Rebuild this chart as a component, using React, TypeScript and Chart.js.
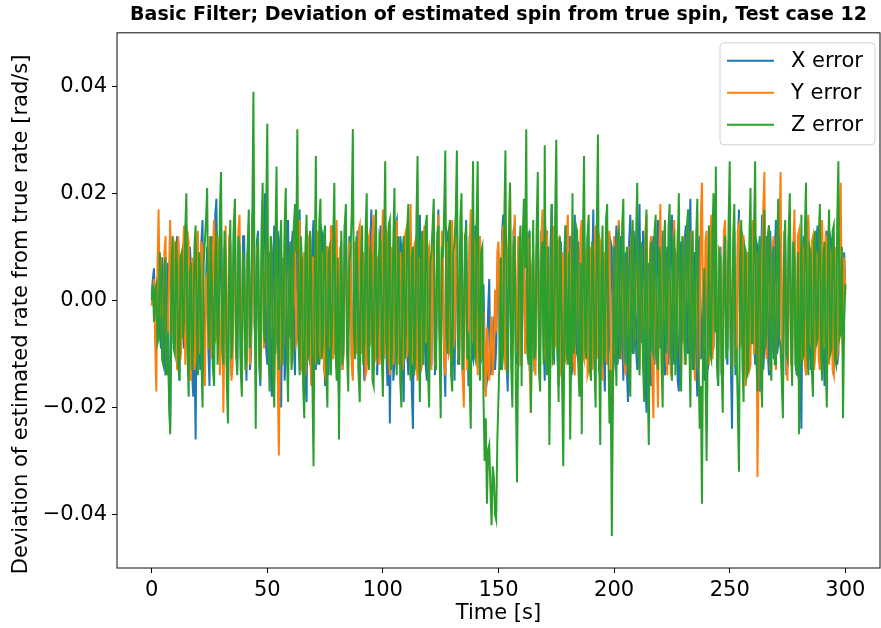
import React, { useEffect, useRef } from "react";
import { Chart, registerables } from "chart.js";

Chart.register(...registerables);

// Sampling grid, seconds (one sample every 0.5 s)
const TIME_S: number[] = Array.from({ length: 601 }, (_, i) => i * 0.5);

// Deviation values, in thousandths of rad/s (20 samples = 10 s per row)
const X_ERR_MILLI = [
  1, 4, 6, -3, -2, 2, 5, -6, -9, 8, 3, -10, -14, 4, 7, -18, -24, -5, 10, -8,
  -6, 9, 12, -11, -15, 7, 4, -3, -9, 11, 14, -7, -11, 10, 6, -14, -18, -8, -26, 3,
  8, -5, -13, 11, 15, -12, -7, 4, 10, -9, -16, 6, 12, -13, -4, 16, 19, -2, -10, 7,
  14, -3, -9, 10, 6, -12, -17, 8, 11, -14, -5, 13, 16, -8, -13, 5, 9, -11, -7, 12,
  12, -6, -15, 9, 7, -13, -10, 15, 18, -4, -8, 11, 13, -12, -16, 3, 5, 14, 20, -9,
  -12, 6, 9, -14, -18, 5, 14, -10, -6, 13, 11, -8, -20, 4, 8, -15, -10, 12, 15, -5,
  -7, 10, 13, -9, -14, 12, 6, -4, 17, -13, -11, 8, 4, -15, -19, 7, 10, -12, -8, 11,
  15, -5, -13, 10, 8, -12, -6, 13, 12, -9, -16, 6, 9, -14, -4, 11, 14, -7, -10, 8,
  7, -11, -18, 4, 11, -13, -9, 14, 16, -6, -5, 12, 10, -10, -14, 8, 6, -7, 13, -12,
  -11, 10, 8, -9, -15, 6, 12, -12, -6, 9, 17, -5, -13, 11, 5, -14, -9, 7, 14, -8,
  -8, 13, 11, -10, -16, 4, -23, -6, 9, -15, -12, 14, 15, -3, -7, 12, 10, -11, -19, 6,
  6, -9, -14, 10, 13, -17, -24, 5, 8, -13, -10, 12, 16, -8, -6, 9, 11, -12, -15, 7,
  9, -6, -12, 11, 14, -14, -8, 10, 17, -4, -13, 8, 7, -11, -18, 13, 12, -9, -5, 10,
  10, -8, -15, 6, 19, -12, -9, 11, 13, -14, -7, 9, 15, -5, -16, 12, 8, -10, -11, 6,
  14, -4, -6, 9, 12, -11, -10, 3, -8, -17, -15, -2, 4, -14, -12, -6, -3, -13, -9, 5,
  9, -10, -13, 12, 16, -3, -5, -12, -17, 8, 11, -9, -8, 13, 14, -6, -12, 10, 7, -11,
  -10, 6, 15, -9, -6, 11, 12, -13, -14, 4, 8, -12, -11, 9, 17, -5, -7, 13, 10, -8,
  -15, 7, 13, -11, -9, 10, 18, -6, -12, 12, 6, -10, -16, 5, 11, -13, -5, 9, 14, -7,
  -8, 10, 12, -14, -13, 6, 16, -9, -10, 11, 7, -15, -18, 8, 15, -4, -6, 12, 9, -11,
  -12, 5, 17, -7, -9, 12, 11, -13, -14, 9, 6, -11, -17, 4, 13, -10, -8, 11, 10, -14,
  -11, 8, 14, -12, -7, 10, 12, -6, -15, 5, 9, -13, -19, 11, 16, -8, -10, 13, 6, -9,
  -13, 9, 18, -5, -8, 13, 11, -14, -21, 4, 7, -10, -16, 8, 12, -12, -6, 10, 15, -7,
  -9, 7, 13, -10, -14, 5, 10, -12, -7, 14, 16, -6, -12, 9, 8, -15, -17, 6, 11, -8,
  -6, 11, 14, -8, -10, 13, 19, -5, -13, 7, 9, -12, -18, 10, 12, -11, -8, 4, -15, 6,
  7, -13, -11, 9, 15, -6, -9, 12, 12, -10, -16, 5, 10, -14, -7, 11, 14, -9, -12, 8,
  8, -12, -24, 6, 13, -14, -10, 10, 17, -5, -8, 12, 11, -11, -15, 7, 9, -13, -6, 10,
  14, -7, -12, 11, 10, -9, -17, 6, 16, -13, -9, 8, 12, -10, -14, 13, 7, -6, -11, 9,
  15, -10, -8, 12, 13, -6, -18, 5, 9, -14, -12, 11, 16, -4, -7, 10, 11, -12, -14, 8,
  6, -14, -24, 3, 12, -9, -10, 13, 15, -7, -13, 9, 9, -12, -6, 11, 14, -8, -11, 6,
  10, -6, -16, 9, 13, -11, -8, 12, 11, -9, -14, 5, 8, -12, -10, 7, 12, -5, -7, 9,
  2,
];

const Y_ERR_MILLI = [
  -1, 2, 4, -8, -17, 6, 17, -3, 8, -10, -6, 9, 12, -12, -9, 5, 15, -7, -4, 11,
  10, -7, -13, 12, 7, -11, -8, 9, 14, -12, -5, 13, 11, -6, -15, 8, 6, -13, -10, 9,
  13, -10, -7, 11, 9, -13, -16, 4, 5, -9, 12, -5, -11, 10, 15, -8, -6, 12, 8, -14,
  -9, 6, -21, -4, 14, -12, -5, 11, 10, -15, -12, 9, 7, -11, -8, 13, 16, -6, -10, 8,
  6, -10, -13, 9, 11, -12, -7, 13, 15, -5, -9, 10, 8, -11, -14, 7, 12, -9, -6, 13,
  10, -7, -11, 12, 7, -10, -15, 8, 13, -14, -29, -6, 9, -12, -8, 11, 14, -9, -12, 6,
  6, -11, -10, 13, 12, -8, -7, 10, 15, -12, -13, 7, 9, -14, -5, 12, 11, -9, -16, 8,
  8, -12, -9, 11, 13, -6, -11, 9, 6, -13, -14, 10, 10, -9, -7, 14, 12, -11, -8, 7,
  15, -8, -12, 10, 7, -13, -10, 12, 13, -9, -6, 11, 9, -12, -15, 6, 11, -10, -8, 13,
  14, -6, -10, 9, 6, -14, -13, 11, 12, -8, -7, 13, 16, -10, -11, 7, 8, -12, -9, 10,
  17, -11, -8, 13, 12, -9, -14, 6, 10, -12, -6, 11, 15, -7, -12, 9, 7, -13, -10, 12,
  13, -10, -9, 8, 18, -12, -7, 10, 11, -11, -15, 6, 8, -13, -12, 11, 14, -8, -6, 9,
  10, -7, -13, 11, 12, -12, -8, 9, 16, -6, -10, 13, 7, -11, -14, 8, 11, -10, -9, 12,
  15, -9, -7, 12, 9, -10, -12, 7, 13, -14, -20, 5, 8, -13, -11, 10, 17, -8, -6, 11,
  10, -8, -14, 7, 12, -11, -8, -2, -12, -18, -5, -13, -15, -7, -3, -14, -10, 2, -6, 9,
  11, -6, -9, 10, 14, -8, -13, 5, 8, 13, 22, -4, -11, 9, 16, -10, -7, 12, 10, -12,
  -12, 8, 15, -10, -8, 12, 11, -13, -21, 6, 9, -11, -14, 10, 13, -7, -6, 11, 17, -9,
  -10, 13, 12, -8, -15, 6, 8, -12, 14, -5, -9, 10, 11, -14, -13, 9, 7, -10, -11, 12,
  16, -6, -8, 11, 10, -12, -14, 7, 12, -9, -7, 13, 15, -10, -11, 8, 9, -14, -13, 10,
  8, -13, -10, 9, 14, -11, -6, 12, 11, -8, -15, 7, 9, -10, -12, 11, 13, -9, -25, -14,
  12, -10, -8, 11, 15, -7, -11, 9, 7, -12, -14, 8, 10, -13, -9, 12, 13, -5, -6, 10,
  11, -9, -13, 7, 8, -12, -10, 13, 16, -6, -7, 10, 12, -14, -22, 5, 9, -11, -20, 8,
  18, -7, -9, 12, 11, -10, -14, 6, 7, -13, -12, 9, 15, -11, -8, 13, 10, -9, -13, 7,
  12, -12, -7, 10, 14, -6, -11, 13, 9, -10, -15, 8, 8, -13, -10, 16, 22, -5, -9, 11,
  13, -8, -12, 9, 16, -11, -8, 12, 10, -7, -14, 10, 7, -12, -11, 13, 15, -6, -9, 11,
  11, -7, -13, 10, 8, -11, -10, 13, 14, -9, -7, 12, 12, -8, -16, 6, 9, -13, -12, 10,
  15, -10, -8, 9, -33, -12, 10, -6, 6, 17, 24, -8, -11, 12, 14, -13, -9, 10, 12, -7,
  -13, 9, 16, 12, 24, -6, -10, 13, 11, -11, -15, 7, 8, -12, -12, 10, 17, -8, -7, 12,
  13, -9, -11, 10, 9, -12, -14, 8, 16, -7, -8, 11, 12, -13, -10, 9, 7, -11, -13, 12,
  15, -6, -9, 12, 11, -10, -12, 9, 8, -13, -14, 7, 10, -11, -7, 13, 22, -4, -11, 8,
  1,
];

const Z_ERR_MILLI = [
  0, 3, -4, 2, 3, -8, -7, 9, 5, -11, -12, 6, 8, -14, -6, -18, -25, 4, 12, -9,
  -10, 11, 6, -12, -15, 8, 9, -7, -4, 13, 20, -10, -18, 5, 7, -13, -8, 10, 14, -6,
  -14, 9, 5, -11, -20, 7, 11, 15, 21, -5, -9, 12, 4, -13, -16, 8, 13, -12, -6, 17,
  24, -8, -12, 13, 8, -16, -23, 6, 15, -11, -7, 14, 19, -9, -14, 12, 10, -13, -18, 9,
  6, -13, -11, 10, 17, -9, -5, 14, 39, 2, -24, 7, 12, -10, -15, 13, 22, -6, -8, 16,
  33, -9, -17, 12, 9, -14, -20, 11, 25, -7, -13, 10, 15, -12, -6, 14, 21, -10, -19, 8,
  11, -13, -9, 14, 18, 9, 32, -8, -14, 12, 7, -16, -22, 10, 16, -11, -10, 13, 5, -15,
  -31, 6, 27, -10, -12, 15, 19, -11, -8, 12, 14, -13, -20, 9, 10, -14, -5, 11, 22, -9,
  -15, 8, -26, -5, 13, -12, -7, 14, 18, -10, -17, 7, 9, 16, 32, -6, -11, 12, 6, -14,
  -19, 7, 14, -12, -8, 13, 20, -9, -13, 10, 8, -15, -16, 9, 17, -11, -4, 12, 11, -10,
  -18, 10, 26, -8, -12, 14, 15, -13, -9, 11, 21, -7, -14, 12, 7, -15, -20, 9, 12, -11,
  -6, 13, 18, -10, -15, 8, 10, -14, -11, 15, 27, -8, -19, 11, 13, -12, -7, 14, 16, -13,
  -20, 7, 9, 14, 19, -11, -13, 12, 14, -9, -22, 10, 8, 17, 28, -7, -10, 13, 15, -14,
  -17, 9, 11, 16, 28, -8, -12, 15, 20, -13, -9, 12, 13, -11, -6, -15, -24, 8, 26, -10,
  -11, 14, 26, -7, -15, 9, 10, -18, -30, -22, -38, -28, -27, -35, -42, -31, -33, -40, -41, -26,
  -18, -9, 8, -13, -10, 15, 28, -6, -14, 11, 22, -12, -20, 10, 12, -16, -34, -8, 9, 14,
  -16, 12, 19, 6, 32, -10, -12, 13, -21, -7, 15, -11, -9, 14, 24, -13, -17, 8, 11, -12,
  29, -6, -14, 10, -27, -9, 18, -11, -10, 16, 30, -8, -19, 12, 8, -15, -31, -5, 14, -10,
  -12, 9, -26, -7, 20, -10, -8, 14, 13, -12, -18, 7, -25, 11, 27, -9, -11, 12, 16, -13,
  -15, 11, 9, -12, -20, 13, 31, -8, -27, 6, 14, -11, -10, 15, 18, -9, -23, -13, -44, -17,
  10, -7, -16, 12, 13, -11, -8, 14, 19, -9, -12, 10, 6, -13, -18, 9, 15, -10, -5, 12,
  22, -8, -14, 11, 9, -12, -19, 7, 17, -15, -27, 6, 11, -9, -10, 13, 16, -11, -13, 10,
  8, -12, -20, 9, 15, -10, -7, 13, 18, -8, -15, 11, 12, -14, -9, 10, 20, -6, -17, 12,
  10, -9, -12, 14, 17, -7, -20, 9, 13, -13, -8, 12, 19, -10, -24, -16, -38, -5, 6, -12,
  -30, -8, 14, -10, -11, 12, 20, -6, 25, -12, -16, 9, 8, -13, -21, 7, 12, -11, -9, 14,
  26, -9, -14, 12, 18, -11, -10, -20, -32, 8, 15, -12, -19, 10, 9, -14, -13, 11, 21, -8,
  -8, 13, 26, -10, -17, 9, 12, -13, -20, 7, 17, -9, -6, 12, 14, -11, -15, 8, 10, -12,
  -12, 10, 19, -7, -9, -15, -22, 8, 15, -10, -11, 13, 20, -8, -16, 11, 8, -12, -13, 9,
  -25, -7, 16, -11, -10, 13, 22, -9, -14, 10, 9, -13, -18, 11, 13, -8, -7, 12, 18, -10,
  -15, 8, 11, -12, -20, 9, 17, -10, -9, 13, 14, -11, -12, 15, 26, -7, -6, 10, -22, -4,
  3,
];

const SERIES_LABELS = ["X error", "Y error", "Z error"];
const SERIES_COLORS = ["#1f77b4", "#ff7f0e", "#2ca02c"];
const SERIES_MILLI = [X_ERR_MILLI, Y_ERR_MILLI, Z_ERR_MILLI];

const X_TICKS = [0, 50, 100, 150, 200, 250, 300];
const Y_TICKS = [-0.04, -0.02, 0, 0.02, 0.04];

const TITLE = "Basic Filter; Deviation of estimated spin from true spin, Test case 12";
const X_LABEL = "Time [s]";
const Y_LABEL = "Deviation of estimated rate from true rate [rad/s]";

const FONT = "'DejaVu Sans', 'Liberation Sans', sans-serif";

const framePlugin = {
  id: "mplFrame",
  afterDraw(chart: any) {
    const { ctx, chartArea: a } = chart;
    ctx.save();
    ctx.strokeStyle = "#222";
    ctx.lineWidth = 1.1;
    ctx.strokeRect(a.left, a.top, a.right - a.left, a.bottom - a.top);
    ctx.restore();
  },
};

// y-axis label, drawn like matplotlib's (slightly below the axes centre)
const yLabelPlugin = {
  id: "mplYLabel",
  afterDraw(chart: any) {
    const { ctx, chartArea: a } = chart;
    ctx.save();
    ctx.translate(22, (a.top + a.bottom) / 2 + 14);
    ctx.rotate(-Math.PI / 2);
    ctx.font = `21px ${FONT}`;
    ctx.fillStyle = "#000";
    ctx.textAlign = "center";
    ctx.textBaseline = "middle";
    ctx.fillText(Y_LABEL, 0, 0);
    ctx.restore();
  },
};

const legendPlugin = {
  id: "mplLegend",
  afterDraw(chart: any) {
    const { ctx, chartArea: a } = chart;
    const w = 155;
    const h = 102;
    const x0 = a.right - 5 - w;
    const y0 = a.top + 10;
    ctx.save();
    const r = 4;
    ctx.beginPath();
    ctx.moveTo(x0 + r, y0);
    ctx.lineTo(x0 + w - r, y0);
    ctx.quadraticCurveTo(x0 + w, y0, x0 + w, y0 + r);
    ctx.lineTo(x0 + w, y0 + h - r);
    ctx.quadraticCurveTo(x0 + w, y0 + h, x0 + w - r, y0 + h);
    ctx.lineTo(x0 + r, y0 + h);
    ctx.quadraticCurveTo(x0, y0 + h, x0, y0 + h - r);
    ctx.lineTo(x0, y0 + r);
    ctx.quadraticCurveTo(x0, y0, x0 + r, y0);
    ctx.closePath();
    ctx.fillStyle = "rgba(255,255,255,0.8)";
    ctx.fill();
    ctx.strokeStyle = "#d0d0d0";
    ctx.lineWidth = 1;
    ctx.stroke();
    ctx.font = `21px ${FONT}`;
    ctx.textBaseline = "middle";
    ctx.textAlign = "left";
    chart.data.datasets
      .map((d: any) => d)
      .sort((p: any, q: any) => SERIES_LABELS.indexOf(p.label) - SERIES_LABELS.indexOf(q.label))
      .forEach((d: any, k: number) => {
        const y = y0 + 18 + k * 32;
        ctx.strokeStyle = d.borderColor;
        ctx.lineWidth = 2;
        ctx.beginPath();
        ctx.moveTo(x0 + 7, y);
        ctx.lineTo(x0 + 54, y);
        ctx.stroke();
        ctx.fillStyle = "#000";
        ctx.fillText(d.label, x0 + 71, y + 1);
      });
    ctx.restore();
  },
};

export default function App() {
  const canvasRef = useRef<HTMLCanvasElement | null>(null);

  useEffect(() => {
    if (!canvasRef.current) return;
    const datasets = SERIES_LABELS.map((label, s) => ({
      label,
      data: SERIES_MILLI[s].map((v, i) => ({ x: TIME_S[i], y: v / 1000 })),
      borderColor: SERIES_COLORS[s],
      backgroundColor: SERIES_COLORS[s],
      borderWidth: 2,
      pointRadius: 0,
      tension: 0,
      fill: false,
      order: 2 - s,
    }));

    const chart = new Chart(canvasRef.current, {
      type: "line",
      data: { datasets },
      options: {
        animation: false,
        responsive: false,
        devicePixelRatio: 1,
        layout: { padding: { left: 0, right: 1, top: 0, bottom: 0 } },
        plugins: {
          legend: { display: false },
          tooltip: { enabled: false },
          title: {
            display: true,
            text: TITLE,
            fullSize: false,
            color: "#000",
            font: { family: FONT, size: 19, weight: "bold" },
            padding: { top: 4, bottom: 6 },
          },
        },
        scales: {
          x: {
            type: "linear",
            min: -15,
            max: 315,
            afterBuildTicks: (s: any) => {
              s.ticks = X_TICKS.map((v) => ({ value: v }));
            },
            afterFit: (s: any) => {
              s.height = 60;
            },
            ticks: {
              color: "#000",
              font: { family: FONT, size: 21 },
              padding: 5,
              maxRotation: 0,
              autoSkip: false,
              callback: (v: any) => String(v),
            },
            grid: {
              display: true,
              drawOnChartArea: false,
              drawTicks: true,
              tickLength: 5,
              tickColor: "#000",
              tickWidth: 1,
            },
            border: { display: false },
            title: {
              display: true,
              text: X_LABEL,
              color: "#000",
              font: { family: FONT, size: 21 },
              padding: { top: 0, bottom: 2 },
            },
          },
          y: {
            type: "linear",
            min: -0.05,
            max: 0.05,
            afterBuildTicks: (s: any) => {
              s.ticks = Y_TICKS.map((v) => ({ value: v }));
            },
            afterFit: (s: any) => {
              s.width = 117;
            },
            ticks: {
              color: "#000",
              font: { family: FONT, size: 21 },
              padding: 5,
              autoSkip: false,
              callback: (v: any) => {
                const n = Number(v);
                const txt = Math.abs(n).toFixed(2);
                return n < -1e-12 ? "\u2212" + txt : txt;
              },
            },
            grid: {
              display: true,
              drawOnChartArea: false,
              drawTicks: true,
              tickLength: 5,
              tickColor: "#000",
              tickWidth: 1,
            },
            border: { display: false },
            title: { display: false },
          },
        },
      },
      plugins: [framePlugin, legendPlugin, yLabelPlugin],
    });
    return () => chart.destroy();
  }, []);

  return (
    <div style={{ position: "absolute", left: 0, top: 0, width: 881, height: 628, background: "#fff" }}>
      <canvas ref={canvasRef} width={881} height={628} style={{ display: "block" }} />
    </div>
  );
}
